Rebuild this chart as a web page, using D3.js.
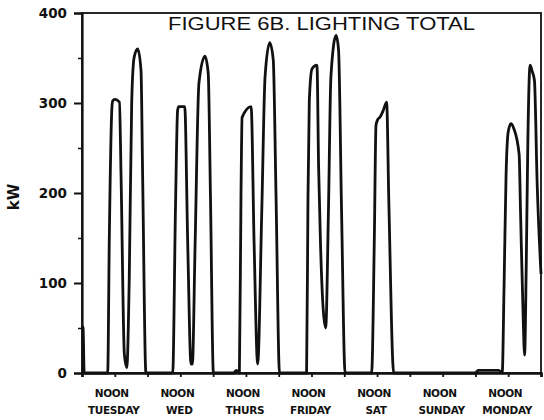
<!DOCTYPE html>
<html>
<head>
<meta charset="utf-8">
<script src="https://cdn.jsdelivr.net/npm/d3@7"></script>
<style>
  html, body { margin: 0; padding: 0; background: #fff; }
  svg { display: block; }
</style>
</head>
<body>
<svg id="chart" width="544" height="420"></svg>
<script>
// Hourly lighting load over one week, Tuesday 00:00 to the following Tuesday 00:00
const hours = [
  0, 0.4, 0.8,
  9.4, 10.0, 10.9, 11.2, 12.0, 13.7, 14.3, 15.5, 16.4, 17.3, 18.2, 19.1, 20.4, 21.6, 22.2, 23.4,
  33.2, 34.2, 35.0, 35.4, 37.6, 38.7, 39.9, 40.4, 41.4, 42.8, 45.0, 46.2, 47.0, 48.1,
  55.5, 56.5, 57.6, 58.2, 58.6, 61.9, 63.0, 64.3, 65.8, 67.0, 68.7, 70.0, 71.0, 72.3,
  82.2, 82.7, 83.2, 84.2, 86.0, 86.6, 87.3, 88.3, 89.2, 90.2, 91.1, 93.0, 93.9, 95.0, 96.3,
  106.0, 107.0, 107.6, 108.3, 109.0, 110.3, 111.5, 112.3, 114.1,
  144.0, 145.0, 152.5, 153.8, 154.5, 155.2, 156.0, 157.0, 158.0, 160.0, 160.5, 161.4, 162.0,
  162.6, 163.2, 164.0, 164.8, 165.6, 166.6, 168.0
];
const kw = [
  52, 50, 0,
  0, 151, 292, 302, 304, 301, 218, 21, 6, 106, 302, 351, 360, 336, 218, 0,
  0, 180, 292, 296, 296, 143, 10, 10, 143, 322, 352, 333, 200, 0,
  0, 3, 0, 200, 284, 296, 143, 10, 180, 329, 367, 348, 200, 0,
  0, 191, 303, 338, 342, 229, 143, 70, 50, 180, 329, 375, 359, 180, 0,
  0, 150, 275, 282, 284, 292, 301, 191, 0,
  0, 3, 3, 0, 100, 218, 268, 277, 272, 243, 180, 70, 20,
  120, 260, 342, 335, 325, 210, 110
];

const days = ["TUESDAY", "WED", "THURS", "FRIDAY", "SAT", "SUNDAY", "MONDAY"];
const noonText = "NOON";
const yTicks = [0, 100, 200, 300, 400];
const yMinorTicks = [50, 150, 250, 350];
const halfDayTicks = d3.range(0, 169, 12);
const titleText = "FIGURE 6B. LIGHTING TOTAL";
const yTitle = "kW";

const svg = d3.select("#chart");
const x = d3.scaleLinear().domain([0, 168]).range([82, 541]);
const y = d3.scaleLinear().domain([0, 400]).range([373, 13]);

const ink = "#111";
const labelFont = "'DejaVu Sans', sans-serif";

// frame
svg.append("rect")
  .attr("x", x(0)).attr("y", y(400))
  .attr("width", x(168) - x(0)).attr("height", y(0) - y(400))
  .attr("fill", "none").attr("stroke", ink).attr("stroke-width", 1.8);

// y axis, major ticks with labels
const yAxis = svg.append("g")
  .attr("transform", `translate(${x(0)},0)`)
  .call(d3.axisLeft(y).tickValues(yTicks).tickSize(8).tickPadding(7).tickFormat(d3.format("d")));
yAxis.select(".domain").attr("stroke", ink).attr("stroke-width", 2.2);
yAxis.selectAll(".tick line").attr("stroke", ink).attr("stroke-width", 2);
yAxis.selectAll(".tick text")
  .attr("fill", ink)
  .style("font-family", labelFont).style("font-weight", "bold").style("font-size", "13.5px");

// y axis minor ticks
const yMinor = svg.append("g")
  .attr("transform", `translate(${x(0)},0)`)
  .call(d3.axisLeft(y).tickValues(yMinorTicks).tickSize(4).tickFormat(""));
yMinor.select(".domain").remove();
yMinor.selectAll(".tick line").attr("stroke", ink).attr("stroke-width", 1.5);

// x axis, ticks every twelve hours
const xAxis = svg.append("g")
  .attr("transform", `translate(0,${y(0)})`)
  .call(d3.axisBottom(x).tickValues(halfDayTicks).tickSize(4).tickFormat(""));
xAxis.select(".domain").attr("stroke", ink).attr("stroke-width", 2.6);
xAxis.selectAll(".tick line").attr("stroke", ink).attr("stroke-width", 1.8);

// noon and day labels
const dayLabels = svg.append("g")
  .style("font-family", labelFont).style("font-weight", "bold")
  .style("font-size", "10.5px").attr("fill", ink).attr("text-anchor", "middle");
days.forEach((d, i) => {
  const cx = x(12 + 24 * i);
  dayLabels.append("text").attr("x", cx - 3).attr("y", 397).attr("letter-spacing", "-0.4").text(noonText);
  dayLabels.append("text").attr("x", cx - 1).attr("y", 414).attr("letter-spacing", "-0.3").text(d);
});

// y axis title
svg.append("text")
  .attr("transform", "translate(19,197) rotate(-90)")
  .attr("text-anchor", "middle")
  .style("font-family", labelFont).style("font-weight", "bold").style("font-size", "15px")
  .attr("fill", ink)
  .text(yTitle);

// chart title
svg.append("text")
  .attr("x", 168).attr("y", 30)
  .attr("textLength", 307).attr("lengthAdjust", "spacingAndGlyphs")
  .style("font-family", "'Liberation Sans', Arial, sans-serif").style("font-size", "17.5px")
  .attr("fill", ink)
  .text(titleText);

// load curve
const pts = hours.map((h, i) => [h, kw[i]]);
const line = d3.line()
  .x(d => x(d[0]))
  .y(d => y(d[1]))
  .curve(d3.curveMonotoneX);
svg.append("path")
  .datum(pts)
  .attr("d", line)
  .attr("fill", "none")
  .attr("stroke", ink)
  .attr("stroke-width", 2.8)
  .attr("stroke-linejoin", "round");
</script>
</body>
</html>
